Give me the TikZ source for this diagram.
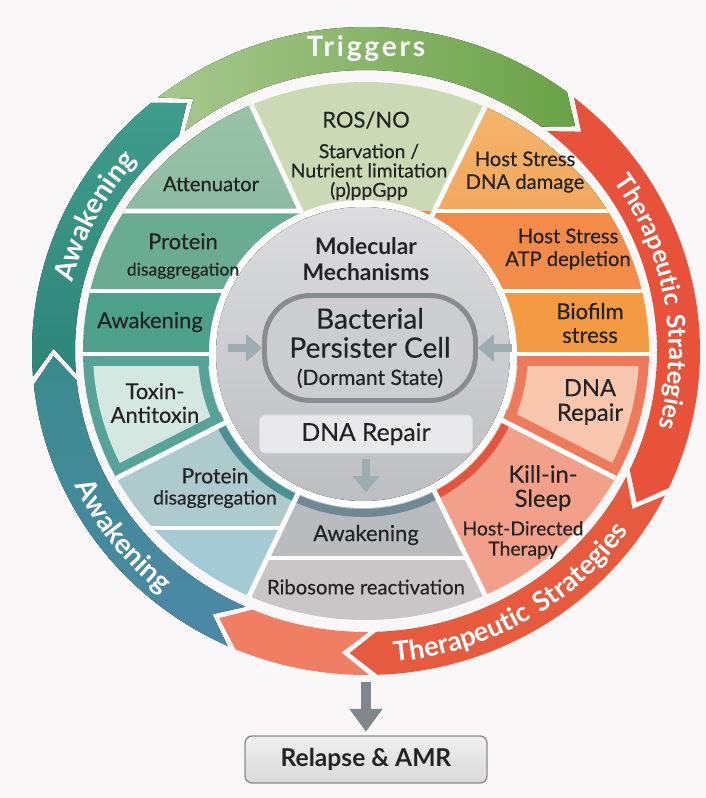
\documentclass[tikz,border=0pt]{standalone}
\usepackage{fontspec}
\setmainfont{Lato}[UprightFeatures={FakeBold=0.35}]
\newfontfamily\ringfamily{Lato}[LetterSpace=10]
\usetikzlibrary{arrows.meta,decorations.text}

\definecolor{paper}{HTML}{F9F7F7}
\definecolor{txtDark}{HTML}{232323}
\definecolor{trigLeft}{HTML}{A8C88E}
\definecolor{trigRight}{HTML}{69A246}
\definecolor{awkUpTop}{HTML}{3F9D8D}
\definecolor{awkUpBot}{HTML}{2E8579}
\definecolor{awkLowTop}{HTML}{3A8B8C}
\definecolor{awkLowBot}{HTML}{4D88A8}
\definecolor{therRed}{HTML}{E8523A}
\definecolor{therLow}{HTML}{E65A3E}
\definecolor{salmonBand}{HTML}{F07E62}
\definecolor{segRos}{HTML}{CBDAB5}
\definecolor{attnTop}{HTML}{B7D2B3}
\definecolor{attnBot}{HTML}{8DBCA2}
\definecolor{segProtUp}{HTML}{6AAC92}
\definecolor{segAwk}{HTML}{4DA08A}
\definecolor{toxFrame}{HTML}{58A397}
\definecolor{toxBox}{HTML}{D5E7E1}
\definecolor{segProtLow}{HTML}{ADCACC}
\definecolor{segCorner}{HTML}{A4CBD5}
\definecolor{segAwkBot}{HTML}{B9BBBE}
\definecolor{segRibo}{HTML}{CAC5C6}
\definecolor{segKill}{HTML}{F3A08A}
\definecolor{repFrame}{HTML}{EE7A5C}
\definecolor{repBox}{HTML}{F7C6AC}
\definecolor{segBio}{HTML}{F39A42}
\definecolor{segAtp}{HTML}{F38C48}
\definecolor{dmgTop}{HTML}{F7CF8C}
\definecolor{dmgBot}{HTML}{F3A95E}
\definecolor{accTeal}{HTML}{4B8E94}
\definecolor{accSlate}{HTML}{6E8896}
\definecolor{accRed}{HTML}{E4553D}
\definecolor{discTop}{HTML}{DCDCDE}
\definecolor{discBot}{HTML}{BCBEC1}
\definecolor{cellFill}{HTML}{CBCDD0}
\definecolor{cellEdge}{HTML}{878C91}
\definecolor{boxFill}{HTML}{E9E9EB}
\definecolor{arrowGray}{HTML}{9DAEB2}
\definecolor{exitGray}{HTML}{7F878C}

\newcommand{\ringfont}{\ringfamily\fontsize{16}{16}\selectfont\bfseries}
\newcommand{\therfont}{\ringfamily\fontsize{14.5}{14.5}\selectfont\bfseries}
\newcommand{\therlowfont}{\ringfamily\fontsize{15.5}{15.5}\selectfont\bfseries}

\begin{document}
\begin{tikzpicture}
[x=0.02cm, y=0.02cm,
 dividerLine/.style={draw=white, line width=2.8pt},
 accentArc/.style={line width=4.5pt},
 segText/.style={text=txtDark, align=center, inner sep=0pt, font=\fontsize{11.5}{13}\selectfont},
 cellArrow/.style={draw=arrowGray, line width=4.5pt, -{Triangle[length=9pt, width=15pt]}},
 exitArrow/.style={draw=exitGray, line width=5.5pt, -{Triangle[length=13pt, width=18pt]}},
 ringLabel/.style={decorate, decoration={text along path, text align=center, text color=white, text={#1}}},
 bandAwkUp/.style={top color=awkUpTop, bottom color=awkUpBot},
 bandTrig/.style={left color=trigLeft, right color=trigRight},
 bandTher/.style={fill=therRed},
 bandTherLow/.style={fill=therLow},
 bandSalmon/.style={fill=salmonBand},
 bandAwkLow/.style={top color=awkLowTop, bottom color=awkLowBot}]

\useasboundingbox (-366,-447) rectangle (340,351);
\fill[paper] (-366,-447) rectangle (340,351);

% outer ring of arrows
\foreach \a/\b/\sty in {184.5/125/bandAwkUp, 128.5/48/bandTrig, 51.5/-30/bandTher,
  -26.5/-93/bandTherLow, -89.5/-118/bandSalmon, -114.5/-179/bandAwkLow}
{
  \fill[\sty] (\a:334 and 324) arc[start angle=\a, end angle=\b+5, x radius=334, y radius=324]
    -- (\b:312.5 and 302.5) -- (\b+5:291 and 281)
    arc[start angle=\b+5, end angle=\a, x radius=291, y radius=281]
    -- (\a-5:312.5 and 302.5) -- cycle;
}

\node (trig) at (0,302) [text=white, font=\ringfamily\fontsize{16}{16}\selectfont\bfseries] {Triggers};
\path[ringLabel={|\ringfont|Awakening}] (181:302 and 292) arc[start angle=181, end angle=125, x radius=302, y radius=292];
\path[ringLabel={|\therfont|Therapeutic Strategies}] (50:303 and 293) arc[start angle=50, end angle=-30, x radius=303, y radius=293];
\path[ringLabel={|\therlowfont|Therapeutic Strategies}] (-94:322 and 312) arc[start angle=-94, end angle=-26, x radius=322, y radius=312];
\path[ringLabel={|\ringfont|Awakening}] (-168:323 and 313) arc[start angle=-168, end angle=-116, x radius=323, y radius=313];

% inner ring of segments
\begin{scope}
  \clip (0,0) ellipse [x radius=283, y radius=269];
  \fill[segRos] (0,0) -- (253.6,520) -- (-242.5,520) -- cycle;
  \fill[top color=attnTop, bottom color=attnBot] (-65.3,140) -- (-242.5,520) -- (-520,520) -- (-520,140) -- cycle;
  \fill[segProtUp] (-520,60) rectangle (0,140);
  \fill[segAwk] (-520,-3) rectangle (0,60);
  \fill[toxFrame] (0,-3) -- (-520,-3) -- (-520,-265) -- (0,0) -- cycle;
  \fill[segProtLow] (0,0) -- (-347,-177) -- (-84.4,-177) -- cycle;
  \fill[segCorner] (-84.4,-177) -- (-520,-177) -- (-520,-520) -- (-248,-520) -- cycle;
  \fill[segAwkBot] (0,0) -- (-98.7,-207) -- (101,-207) -- cycle;
  \fill[segRibo] (-98.7,-207) -- (-248,-520) -- (253.6,-520) -- (101,-207) -- cycle;
  \fill[segKill] (0,0) -- (253.6,-520) -- (520,-265) -- cycle;
  \fill[repFrame] (0,-3) -- (520,-3) -- (520,-265) -- (0,0) -- cycle;
  \fill[segBio] (0,-3) rectangle (520,60);
  \fill[segAtp] (0,60) rectangle (520,140);
  \fill[top color=dmgTop, bottom color=dmgBot] (68.3,140) -- (520,140) -- (520,520) -- (253.6,520) -- cycle;

  \begin{scope}
    \clip (0,0) ellipse [x radius=273, y radius=259];
    \fill[toxBox, rounded corners=8pt] (-56,-15) -- (-520,-15) -- (-520,-251.4) -- cycle;
    \fill[repBox, rounded corners=8pt] (56,-15) -- (520,-15) -- (520,-251.4) -- cycle;
  \end{scope}

  % accents along the inner edge
  \begin{scope}
    \clip (0,-3) -- (-520,-3) -- (-520,-265) -- (0,0) -- cycle;
    \draw[accentArc, toxFrame, line width=5.5pt] (-3,-3) circle[radius=160];
  \end{scope}
  \begin{scope}
    \clip (0,-3) -- (520,-3) -- (520,-265) -- (0,0) -- cycle;
    \draw[accentArc, repFrame, line width=5.5pt] (-3,-3) circle[radius=160];
  \end{scope}
  \begin{scope}
    \clip (0,0) -- (-347,-177) -- (-84.4,-177) -- cycle;
    \draw[accentArc, accTeal] (-3,-3) circle[radius=159];
  \end{scope}
  \begin{scope}
    \clip (0,0) -- (-98.7,-207) -- (101,-207) -- cycle;
    \draw[accentArc, accSlate] (-3,-3) circle[radius=159];
  \end{scope}
  \begin{scope}
    \clip (0,0) -- (253.6,-520) -- (520,-265) -- cycle;
    \draw[accentArc, accRed] (-3,-3) circle[radius=159];
  \end{scope}

  \draw[dividerLine] (-520,140) -- (-65.3,140) -- (-242.5,520);
  \draw[dividerLine] (0,0) -- (253.6,520);
  \draw[dividerLine] (68.3,140) -- (520,140);
  \draw[dividerLine] (-520,60) -- (520,60);
  \draw[dividerLine] (-520,-3) -- (520,-3);
  \draw[dividerLine] (0,0) -- (-520,-265);
  \draw[dividerLine] (0,0) -- (520,-265);
  \draw[dividerLine] (-520,-177) -- (-84.4,-177);
  \draw[dividerLine] (0,0) -- (-248,-520);
  \draw[dividerLine] (0,0) -- (253.6,-520);
  \draw[dividerLine] (-98.7,-207) -- (101,-207);
\end{scope}

% centre disc
\fill[white] (-3,-3) circle[radius=154];
\fill[top color=discTop, bottom color=discBot] (-3,-3) circle[radius=147];

\node (mol) at (0,92) [text=txtDark, align=center, font=\fontsize{13}{14.5}\selectfont\bfseries] {Molecular\\Mechanisms};
\node (cell) at (4,3) [draw=cellEdge, line width=2.8pt, fill=cellFill, rounded corners=26pt,
  minimum width=4.22cm, minimum height=2.1cm, align=center, text=txtDark,
  font=\fontsize{16}{16.5}\selectfont] {Bacterial\\Persister Cell\\[-1pt]{\fontsize{12}{13}\selectfont(Dormant State)}};
\node (dnabox) at (0,-83) [fill=boxFill, draw=white!85!black, line width=0.5pt, rounded corners=3pt,
  minimum width=4.26cm, minimum height=0.76cm, text=txtDark, font=\fontsize{14}{16}\selectfont] {DNA Repair};

\draw[cellArrow] (cell.west) ++(-34,0) -- (cell.west);
\draw[cellArrow] (cell.east) ++(34,0) -- (cell.east);
\coordinate (dnahead) at (0,-141);
\draw[cellArrow] (dnabox.south) ++(0,-6) -- (dnahead);

% segment labels
\node (ros) at (0,231) [segText, font=\fontsize{12.5}{14}\selectfont] {ROS/NO};
\node (starv) at (3,179) [segText, font=\fontsize{11}{11}\selectfont] {Starvation /\\Nutrient limitation\\(p)ppGpp};
\node (attn) at (-155,167) [segText] {Attenuator};
\node (protup) at (-183,95) [segText, font=\fontsize{12.5}{15}\selectfont] {Protein\\{\fontsize{10}{12}\selectfont disaggregation}};
\node (awkseg) at (-216,29) [segText, font=\fontsize{12.5}{14}\selectfont] {Awakening};
\node (toxin) at (-211,-52) [segText, font=\fontsize{12.5}{13.5}\selectfont] {Toxin-\\Antitoxin};
\node (protlow) at (-151,-137) [segText, font=\fontsize{12}{12}\selectfont] {Protein\\{\fontsize{11}{12}\selectfont disaggregation}};
\node (dnadmg) at (159,179) [segText] {Host Stress\\DNA damage};
\node (atp) at (202,102) [segText] {Host Stress\\ATP depletion};
\node (biofilm) at (224,28) [segText, font=\fontsize{12.5}{13.5}\selectfont] {Biofilm\\stress};
\node (dnarep) at (224,-51) [segText, font=\fontsize{13.5}{14}\selectfont] {DNA\\Repair};
\node (kill) at (177,-137) [segText, font=\fontsize{13.5}{13.8}\selectfont] {Kill-in-\\Sleep};
\node (hdt) at (157,-189) [segText, font=\fontsize{11}{11.5}\selectfont] {Host-Directed\\Therapy};
\node (awkbot) at (0,-184) [segText, font=\fontsize{12.5}{14}\selectfont] {Awakening};
\node (ribo) at (0,-236) [segText] {Ribosome reactivation};

% outcome
\node (relapse) at (0,-408.5) [draw=black!45, line width=0.8pt, top color=black!6, bottom color=black!15,
  rounded corners=4pt, minimum width=4.84cm, minimum height=0.94cm, text=txtDark,
  font=\fontsize{14}{16}\selectfont\bfseries] {Relapse \& AMR};
\coordinate (ringexit) at (0,-331);
\draw[exitArrow, shorten >=2pt] (ringexit) -- (relapse.north);
\end{tikzpicture}
\end{document}
